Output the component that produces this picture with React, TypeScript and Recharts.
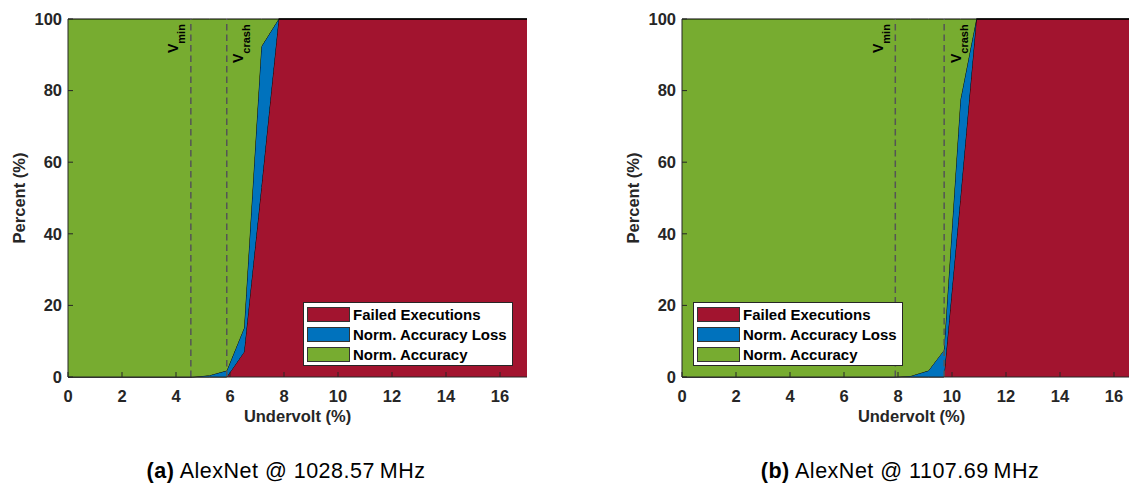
import { Area, AreaChart, Legend, ReferenceLine, XAxis, YAxis } from "recharts"

// AlexNet @ 1028.57 MHz: undervolt steps (%) and stacked shares (%)
const alexnet1028Undervolt = [0, 4.6, 5.25, 5.88, 6.52, 7.16, 7.8, 17]
const alexnet1028Failed = [0, 0, 0, 0, 7, 53, 100, 100]
const alexnet1028Loss = [0, 0, 0.5, 1.8, 6.7, 39.3, 0, 0]
const alexnet1028Accuracy = [100, 100, 99.5, 98.2, 86.3, 7.7, 0, 0]
const alexnet1028Vmin = 4.55
const alexnet1028Vcrash = 5.88

// AlexNet @ 1107.69 MHz
const alexnet1107Undervolt = [0, 7.85, 8.47, 9.13, 9.7, 10.31, 10.9, 17]
const alexnet1107Failed = [0, 0, 0, 0, 0, 50, 100, 100]
const alexnet1107Loss = [0, 0, 0.3, 1.8, 7.5, 27.4, 0, 0]
const alexnet1107Accuracy = [100, 100, 99.7, 98.2, 92.5, 22.6, 0, 0]
const alexnet1107Vmin = 7.9
const alexnet1107Vcrash = 9.71

const xTicks = [0, 2, 4, 6, 8, 10, 12, 14, 16]
const yTicks = [0, 20, 40, 60, 80, 100]

const series = [
  { key: "failed", name: "Failed Executions", color: "#A2142F" },
  { key: "loss", name: "Norm. Accuracy Loss", color: "#0072BD" },
  { key: "accuracy", name: "Norm. Accuracy", color: "#77AC30" },
]

const FONT = "'Liberation Sans', Arial, Helvetica, sans-serif"
const AXIS = "#262626"
const tickStyle = { fill: AXIS, fontSize: 16.5, fontWeight: "bold", fontFamily: FONT }

function VoltLabel(props: any) {
  const { viewBox, sub, dx, dy } = props
  const bx = viewBox.x + dx
  const by = viewBox.y + dy
  return (
    <text
      transform={`translate(${bx},${by}) rotate(-90)`}
      fill="#000"
      fontFamily={FONT}
      fontWeight="bold"
      fontSize={14}
    >
      V
      <tspan fontSize={11} dy={7}>
        {sub}
      </tspan>
    </text>
  )
}

function LegendBox() {
  return (
    <div
      style={{
        width: 210,
        height: 64,
        boxSizing: "border-box",
        border: `1px solid ${AXIS}`,
        background: "#fff",
        padding: "1px 3px 0 3px",
        fontFamily: FONT,
        fontWeight: "bold",
        fontSize: 15,
        color: "#000",
      }}
    >
      {series.map((s) => (
        <div key={s.key} style={{ display: "flex", alignItems: "center", height: 20 }}>
          <span
            style={{
              display: "inline-block",
              width: 43,
              height: 15,
              boxSizing: "border-box",
              background: s.color,
              border: "1px solid #333",
            }}
          />
          <span style={{ marginLeft: 3, whiteSpace: "nowrap" }}>{s.name}</span>
        </div>
      ))}
    </div>
  )
}

function Panel(props: any) {
  const { undervolt, failed, loss, accuracy, vmin, vcrash, legendLeft } = props
  const data = undervolt.map((u: number, i: number) => ({
    undervolt: u,
    failed: failed[i],
    loss: loss[i],
    accuracy: accuracy[i],
  }))

  return (
    <AreaChart
      width={560}
      height={430}
      data={data}
      margin={{ top: 19, right: 33, left: 8, bottom: 3 }}
      style={{ fontFamily: FONT }}
    >
      {series.map((s) => (
        <Area
          key={s.key}
          dataKey={s.key}
          name={s.name}
          stackId="share"
          type="linear"
          fill={s.color}
          fillOpacity={1}
          stroke="#000"
          strokeWidth={1}
          dot={false}
          activeDot={false}
          isAnimationActive={false}
        />
      ))}
      <ReferenceLine
        x={vmin}
        stroke="#555"
        strokeWidth={1.5}
        strokeDasharray="6.5 4"
        label={<VoltLabel sub="min" dx={-12.4} dy={34} />}
      />
      <ReferenceLine
        x={vcrash}
        stroke="#555"
        strokeWidth={1.5}
        strokeDasharray="6.5 4"
        label={<VoltLabel sub="crash" dx={16.5} dy={44} />}
      />
      <XAxis
        dataKey="undervolt"
        type="number"
        domain={[0, 17]}
        ticks={xTicks}
        interval={0}
        allowDataOverflow
        height={50}
        tickSize={-5}
        tickMargin={18}
        axisLine={{ stroke: AXIS }}
        tickLine={{ stroke: AXIS }}
        tick={tickStyle}
        label={(p: any) => (
          <text
            x={p.viewBox.x + p.viewBox.width / 2}
            y={p.viewBox.y + 45}
            textAnchor="middle"
            fill={AXIS}
            fontFamily={FONT}
            fontWeight="bold"
            fontSize={16.5}
          >
            Undervolt (%)
          </text>
        )}
      />
      <XAxis
        xAxisId="top"
        orientation="top"
        type="number"
        domain={[0, 17]}
        ticks={xTicks}
        interval={0}
        height={0}
        tickSize={-5}
        axisLine={{ stroke: AXIS }}
        tickLine={{ stroke: AXIS }}
        tick={false}
      />
      <YAxis
        type="number"
        domain={[0, 100]}
        ticks={yTicks}
        interval={0}
        width={60}
        tickSize={-5}
        tickMargin={11}
        axisLine={{ stroke: AXIS }}
        tickLine={{ stroke: AXIS }}
        tick={tickStyle}
        label={(p: any) => (
          <text
            transform={`translate(${p.viewBox.x + 17},${p.viewBox.y + p.viewBox.height / 2}) rotate(-90)`}
            textAnchor="middle"
            fill={AXIS}
            fontFamily={FONT}
            fontWeight="bold"
            fontSize={16.5}
          >
            Percent (%)
          </text>
        )}
      />
      <YAxis
        yAxisId="right"
        orientation="right"
        type="number"
        domain={[0, 100]}
        ticks={yTicks}
        interval={0}
        width={0}
        tickSize={-5}
        axisLine={{ stroke: AXIS }}
        tickLine={{ stroke: AXIS }}
        tick={false}
      />
      <Legend
        layout="vertical"
        align="center"
        verticalAlign="middle"
        content={() => <LegendBox />}
        wrapperStyle={{ left: legendLeft, top: 302, width: 210, height: 64 }}
      />
    </AreaChart>
  )
}

function Caption({ tag, text, center }: { tag: string; text: string; center: number }) {
  return (
    <div
      style={{
        position: "absolute",
        left: center - 250,
        width: 500,
        top: 461,
        textAlign: "center",
        fontFamily: FONT,
        fontSize: 21.5,
        letterSpacing: 0.5,
        lineHeight: "21px",
        color: "#000",
        whiteSpace: "nowrap",
      }}
    >
      <b>{tag}</b> {text}
    </div>
  )
}

export default function App() {
  return (
    <div
      style={{
        position: "absolute",
        left: 0,
        top: 0,
        width: 1129,
        height: 486,
        overflow: "hidden",
        background: "#fff",
      }}
    >
      <div style={{ position: "absolute", left: 0, top: 0 }}>
        <Panel
          undervolt={alexnet1028Undervolt}
          failed={alexnet1028Failed}
          loss={alexnet1028Loss}
          accuracy={alexnet1028Accuracy}
          vmin={alexnet1028Vmin}
          vcrash={alexnet1028Vcrash}
          legendLeft={303}
        />
      </div>
      <div style={{ position: "absolute", left: 614, top: 0 }}>
        <Panel
          undervolt={alexnet1107Undervolt}
          failed={alexnet1107Failed}
          loss={alexnet1107Loss}
          accuracy={alexnet1107Accuracy}
          vmin={alexnet1107Vmin}
          vcrash={alexnet1107Vcrash}
          legendLeft={79}
        />
      </div>
      <Caption tag="(a)" text={"AlexNet @ 1028.57\u2009MHz"} center={286} />
      <Caption tag="(b)" text={"AlexNet @ 1107.69\u2009MHz"} center={900} />
    </div>
  )
}
